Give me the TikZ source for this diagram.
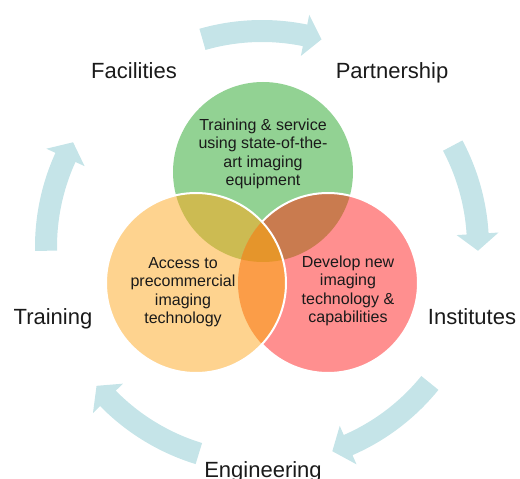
\documentclass[tikz,border=0pt]{standalone}
\usepackage{fontspec}
\setmainfont{Liberation Sans}
\usetikzlibrary{calc}
\definecolor{cgreen}{HTML}{92D293}
\definecolor{corange}{HTML}{FED38F}
\definecolor{cred}{HTML}{FF8F8F}
\definecolor{cgo}{HTML}{CCBB52}
\definecolor{cgr}{HTML}{C97B4F}
\definecolor{cor}{HTML}{FB9D48}
\definecolor{call}{HTML}{E5952B}
\definecolor{arrowblue}{HTML}{C5E4E8}
\definecolor{txt}{HTML}{1A1A1A}
\tikzset{
  circtext/.style={align=center, text=txt, font=\fontsize{16}{18.4}\selectfont, inner sep=0pt},
  outerlabel/.style={anchor=base, text=txt, font=\fontsize{22}{24}\selectfont, inner sep=0pt},
  ringarrow/.style={fill=arrowblue}
}
\newcommand{\cyclearrow}[2]{%
  \fill[ringarrow] ($(C)+(#1:227)$) arc[start angle=#1, end angle={#2+4.5}, radius=227]
    -- ($(C)+({#2+4.5}:237)$) -- ($(C)+(#2:216)$) -- ($(C)+({#2+4.5}:195)$)
    -- ($(C)+({#2+4.5}:205)$) arc[start angle={#2+4.5}, end angle=#1, radius=205] -- cycle;}
\begin{document}
\begin{tikzpicture}[x=1pt,y=1pt]
\useasboundingbox (0,0) rectangle (520,479);
\coordinate (C) at (262,232);
\coordinate (G) at (263,307);
\coordinate (O) at (196,196);
\coordinate (R) at (328,196);
% ring arrows
\cyclearrow{106}{74}
\cyclearrow{28}{-1}
\cyclearrow{-39}{-71}
\cyclearrow{-107}{-140}
\cyclearrow{181}{151}
% circles
\fill[cgreen] (G) circle[radius=90];
\fill[cred] (R) circle[radius=90];
\fill[corange] (O) circle[radius=90];
\begin{scope}
  \clip (G) circle[radius=90];
  \fill[cgo] (O) circle[radius=90];
  \fill[cgr] (R) circle[radius=90];
\end{scope}
\begin{scope}
  \clip (O) circle[radius=90];
  \fill[cor] (R) circle[radius=90];
  \clip (R) circle[radius=90];
  \fill[call] (G) circle[radius=90];
\end{scope}
\begin{scope}[even odd rule]
  \clip (0,0) rectangle (520,479) (O) circle[radius=90];
  \draw[white, line width=2pt] (R) circle[radius=90];
\end{scope}
\draw[white, line width=2pt] (O) circle[radius=90];
% circle texts
\node[circtext] (tg) at (263,325) {Training \& service\\using state-of-the-\\art imaging\\equipment};
\node[circtext] (to) at (183,187) {Access to\\precommercial\\imaging\\technology};
\node[circtext] (tr) at (348,188) {Develop new\\imaging\\technology \&\\capabilities};
% outer labels
\node[outerlabel] (fac) at (134,400) {Facilities};
\node[outerlabel] (par) at (392,400) {Partnership};
\node[outerlabel] (tra) at (53,154) {Training};
\node[outerlabel] (ins) at (472,154) {Institutes};
\node[outerlabel] (eng) at (263,1.5) {Engineering};
\end{tikzpicture}
\end{document}
